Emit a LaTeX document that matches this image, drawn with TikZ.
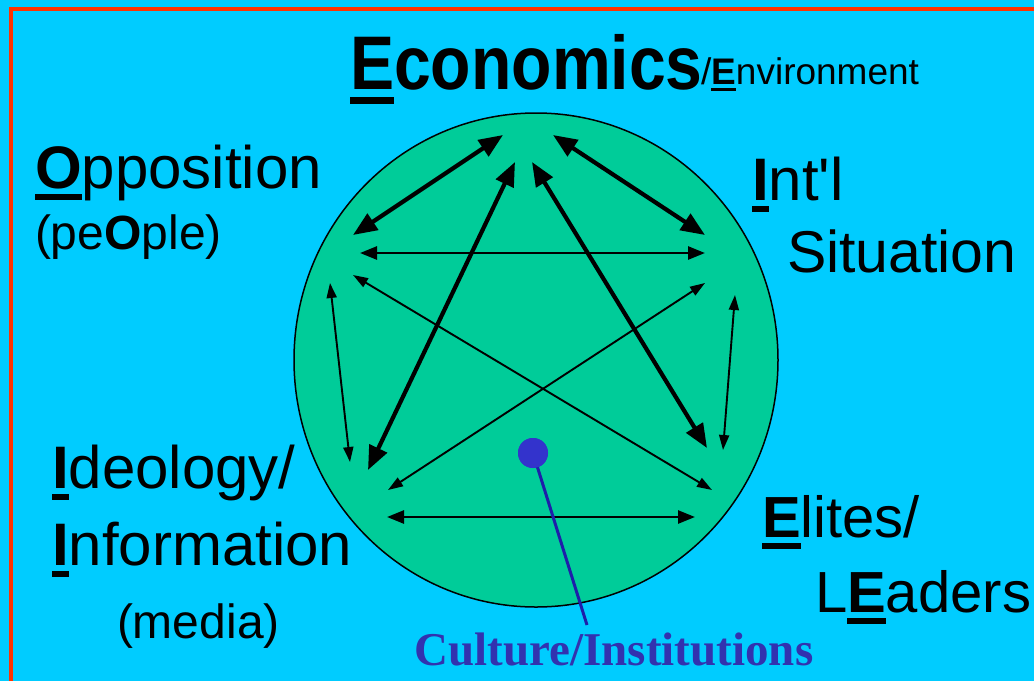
\documentclass[tikz,border=0pt]{standalone}
\usepackage{fontspec}
\setmainfont{Liberation Sans}
\newfontfamily\plainsans{Liberation Sans}
\newfontfamily\culturefont{Liberation Serif}
\usetikzlibrary{arrows.meta,shapes.geometric}
\definecolor{bgcyan}{RGB}{0,204,255}
\definecolor{discgreen}{RGB}{0,204,153}
\definecolor{framered}{RGB}{255,51,0}
\definecolor{dotblue}{RGB}{51,51,204}
\definecolor{lineblue}{RGB}{30,30,170}
\definecolor{textblue}{RGB}{50,50,175}
\newsavebox\ulbox
\newcommand\ulbf[1]{\sbox\ulbox{\bfseries #1}\rlap{\rule[-0.2em]{\wd\ulbox}{0.1em}}\usebox\ulbox}
\newcommand\fsz[1]{\fontsize{#1}{#1}\selectfont}
\tikzset{
  lab/.style={anchor=base west, inner sep=0pt, outer sep=0pt, text=black},
  thickarr/.style={line width=4.2pt, {Triangle[length=24pt,width=19pt]}-{Triangle[length=24pt,width=19pt]}},
  midarr/.style={line width=2.6pt, {Triangle[length=17pt,width=13pt]}-{Triangle[length=17pt,width=13pt]}},
  thinarr/.style={line width=1.9pt, {Triangle[length=15pt,width=10pt]}-{Triangle[length=15pt,width=10pt]}},
}
\begin{document}
\begin{tikzpicture}[x=1pt,y=-1pt]
\useasboundingbox (0,0) rectangle (1034,681);
\fill[bgcyan] (0,0) rectangle (1034,681);
\draw[framered, line width=4pt] (10.5,681) -- (10.5,8.5) -- (1034,8.5);

% disc
\node[draw=black, line width=1.5pt, fill=discgreen, ellipse, minimum width=484pt, minimum height=494pt, inner sep=0pt] (disc) at (536,360) {};

% labels
\node[lab] (econ) at (350,89) {\scalebox{0.87}[1]{\fsz{76}\bfseries\ulbf{E}conomics}};
\node[lab] (env) at (701,84) {\fsz{37}/\ulbf{E}nvironment};
\node[lab] (opp) at (35,188) {\fsz{60}\ulbf{O}pposition};
\node[lab] (people) at (35,249) {\fsz{48}(pe\textbf{O}ple)};
\node[lab] (intl) at (752,200) {\fsz{60}\ulbf{I}nt{\plainsans'}l};
\node[lab] (sit) at (787,272) {\fsz{59}Situation};
\node[lab] (ideo) at (52,488) {\fsz{60}\ulbf{I}deology/};
\node[lab] (info) at (52,565) {\fsz{60}\ulbf{I}nformation};
\node[lab] (media) at (117,638) {\fsz{48}(media)};
\node[lab] (elites) at (762,537) {\fsz{58}\ulbf{E}lites/};
\node[lab] (leaders) at (815,612) {\fsz{58}L\ulbf{E}aders};
\node[anchor=base, inner sep=0pt, text=textblue] (culture) at (614,665) {\fsz{47}\culturefont\bfseries Culture/Institutions};

% arrow endpoints
\coordinate (e1) at (503,135); \coordinate (o1) at (353,235);
\coordinate (e2) at (553,135); \coordinate (i1) at (705,235);
\coordinate (e3) at (515,162); \coordinate (d1) at (368,470);
\coordinate (e4) at (532,162); \coordinate (l1) at (707,448);
\coordinate (o2) at (360,253); \coordinate (i2) at (705,253);
\coordinate (d2) at (387,517); \coordinate (l2) at (695,517);
\coordinate (o3) at (353,275); \coordinate (l3) at (712,490);
\coordinate (i3) at (705,283); \coordinate (d3) at (388,490);
\coordinate (o4) at (330,283); \coordinate (d4) at (350,462);
\coordinate (i4) at (735,295); \coordinate (l4) at (723,450);

\draw[thickarr] (e1) -- (o1);
\draw[thickarr] (e2) -- (i1);
\draw[thickarr] (e3) -- (d1);
\draw[thickarr] (e4) -- (l1);
\draw[midarr] (o2) -- (i2);
\draw[midarr] (d2) -- (l2);
\draw[thinarr] (o3) -- (l3);
\draw[thinarr] (i3) -- (d3);
\draw[thinarr] (o4) -- (d4);
\draw[thinarr] (i4) -- (l4);

% culture pointer
\node[circle, fill=dotblue, minimum size=30pt, inner sep=0pt] (dot) at (533,453) {};
\coordinate (ptrend) at (587,625);
\draw[lineblue, line width=3pt] (dot.center) -- (ptrend);
\fill[dotblue] (dot) circle (15pt);
\end{tikzpicture}
\end{document}
